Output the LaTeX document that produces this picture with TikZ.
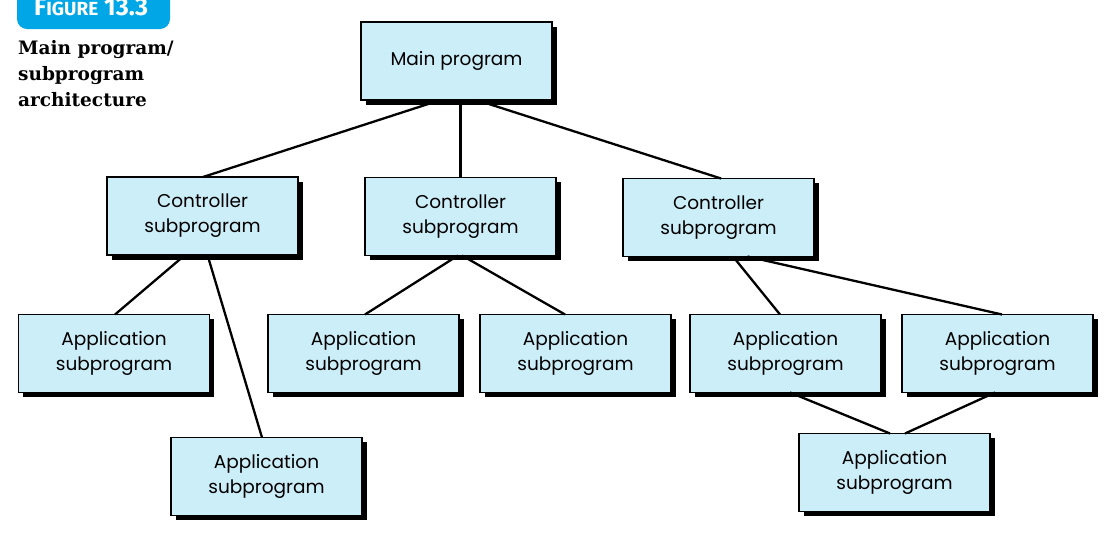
\documentclass[tikz,border=0pt]{standalone}
\usepackage{fontspec}
\setmainfont{Poppins}
\newfontfamily\capfont{DejaVu Serif}
\newfontfamily\figfont{Fira Sans}
\usetikzlibrary{shadows,calc}
\definecolor{boxfill}{HTML}{CCEEF9}
\definecolor{tabblue}{HTML}{00A6E6}
\tikzset{
  pbox/.style={draw=black, line width=1.7pt, fill=boxfill,
    minimum width=191pt, minimum height=78pt, inner sep=0pt, outer sep=0pt,
    align=center, font=\fontsize{18.5}{25}\selectfont,
    drop shadow={shadow xshift=4.5pt, shadow yshift=-4.5pt, opacity=1, fill=black}},
  conn/.style={line width=2.3pt, black},
  captext/.style={anchor=base west, inner sep=0pt, font=\capfont\bfseries\fontsize{18.5}{26}\selectfont}
}
\begin{document}
\begin{tikzpicture}[x=1pt,y=-1pt]
\useasboundingbox (0,0) rectangle (1113,542);
% figure tab
\fill[tabblue, rounded corners=10pt] (17,-20) rectangle (170,29);
\node[anchor=base west, inner sep=0pt, text=white, font=\figfont\bfseries\fontsize{25}{25}\selectfont] (tab) at (34,15) {F{\fontsize{19}{19}\selectfont IGURE}\ 13.3};
% caption
\node[captext] (cap1) at (18,54) {Main program/};
\node[captext] (cap2) at (18,80) {subprogram};
\node[captext] (cap3) at (18,106) {architecture};
% boxes
\node[pbox] (main) at (456.5,61) {Main program};
\node[pbox] (c1) at (202.5,216) {Controller\\subprogram};
\node[pbox] (c2) at (460.5,216.5) {Controller\\subprogram};
\node[pbox] (c3) at (718.5,217.5) {Controller\\subprogram};
\node[pbox] (a1) at (114,353.5) {Application\\subprogram};
\node[pbox] (a2) at (363.5,353.5) {Application\\subprogram};
\node[pbox] (a3) at (575.5,353.5) {Application\\subprogram};
\node[pbox] (a4) at (785.5,353.5) {Application\\subprogram};
\node[pbox] (a5) at (997.5,353.5) {Application\\subprogram};
\node[pbox] (bl) at (266.5,476.5) {Application\\subprogram};
\node[pbox] (br) at (894.5,472.5) {Application\\subprogram};
% connectors
\draw[conn] ([xshift=-16pt]main.south) -- ([xshift=0.5pt]c1.north);
\draw[conn] (c2.north |- main.south) -- (c2.north);
\draw[conn] ([xshift=20pt]main.south) -- ([xshift=2.5pt]c3.north);
\draw[conn] ([xshift=-17.5pt]c1.south) -- ([xshift=1pt]a1.north);
\draw[conn] ([xshift=5pt]c1.south) -- ([xshift=-4.5pt]bl.north);
\draw[conn] ([xshift=-2.5pt]c2.south) -- ([xshift=1.5pt]a2.north);
\draw[conn] ([xshift=1.5pt]c2.south) -- ([xshift=-10.5pt]a3.north);
\draw[conn] ([xshift=14.5pt]c3.south) -- ([xshift=-5.5pt]a4.north);
\draw[conn] ([xshift=29pt]c3.south) -- ([xshift=4.5pt]a5.north);
\draw[conn] ([xshift=4.5pt]a4.south) -- ([xshift=-4.5pt]br.north);
\draw[conn] ([xshift=-2.5pt]a5.south) -- ([xshift=10.5pt]br.north);
\end{tikzpicture}
\end{document}
